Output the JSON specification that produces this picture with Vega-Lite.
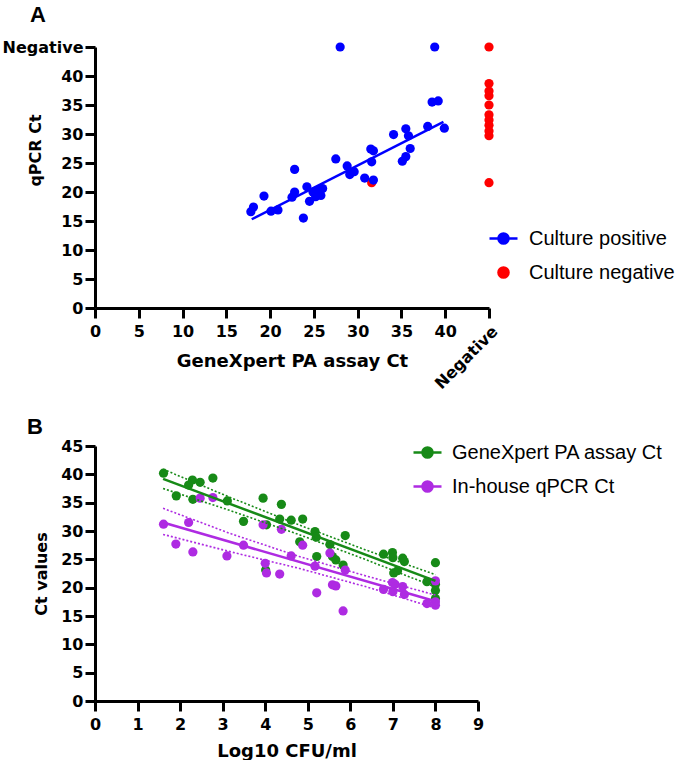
{
  "$schema": "https://vega.github.io/schema/vega-lite/v6.json",
  "padding": {"left": 2, "top": 4, "right": 0, "bottom": 0},
  "spacing": 24,
  "config": {
    "view": {"stroke": null},
    "axis": {
      "grid": false, "domainColor": "black", "domainWidth": 3, "tickColor": "black", "tickWidth": 3, "tickSize": 10,
      "labelFont": "DejaVu Sans", "labelFontWeight": "bold", "labelFontSize": 16, "labelColor": "black",
      "titleFont": "DejaVu Sans", "titleFontWeight": "bold", "titleFontSize": 18, "titleColor": "black",
      "labelOverlap": false, "labelFlush": false
    },
    "axisY": {"labelOverlap": false},
    "axisQuantitative": {"labelOverlap": false},
    "legend": {"labelFont": "Liberation Sans", "labelFontSize": 20, "labelColor": "black", "padding": 0, "labelLimit": 400},
    "title": {"font": "Liberation Sans", "fontSize": 22, "fontWeight": "bold", "anchor": "start", "frame": "group", "color": "black"}
  },
  "resolve": {"scale": {"color": "independent"}, "legend": {"color": "independent"}},
  "vconcat": [
    {
      "title": {"text": "A", "dx": -65, "offset": 12},
      "width": 394,
      "height": 261,
      "data": {"values": [
        {"gx": 31.6, "q": 21.6, "grp": "Culture negative", "k": "pt"},
        {"gx": 45, "q": 45, "grp": "Culture negative", "k": "pt"},
        {"gx": 45, "q": 38.7, "grp": "Culture negative", "k": "pt"},
        {"gx": 45, "q": 37.4, "grp": "Culture negative", "k": "pt"},
        {"gx": 45, "q": 36.6, "grp": "Culture negative", "k": "pt"},
        {"gx": 45, "q": 35.0, "grp": "Culture negative", "k": "pt"},
        {"gx": 45, "q": 33.3, "grp": "Culture negative", "k": "pt"},
        {"gx": 45, "q": 32.4, "grp": "Culture negative", "k": "pt"},
        {"gx": 45, "q": 31.5, "grp": "Culture negative", "k": "pt"},
        {"gx": 45, "q": 30.5, "grp": "Culture negative", "k": "pt"},
        {"gx": 45, "q": 29.7, "grp": "Culture negative", "k": "pt"},
        {"gx": 45, "q": 21.6, "grp": "Culture negative", "k": "pt"},
        {"gx": 28.0, "q": 45, "grp": "Culture positive", "k": "pt"},
        {"gx": 38.8, "q": 45, "grp": "Culture positive", "k": "pt"},
        {"gx": 38.5, "q": 35.5, "grp": "Culture positive", "k": "pt"},
        {"gx": 39.2, "q": 35.7, "grp": "Culture positive", "k": "pt"},
        {"gx": 38.0, "q": 31.3, "grp": "Culture positive", "k": "pt"},
        {"gx": 39.9, "q": 31.0, "grp": "Culture positive", "k": "pt"},
        {"gx": 34.1, "q": 29.9, "grp": "Culture positive", "k": "pt"},
        {"gx": 35.5, "q": 30.9, "grp": "Culture positive", "k": "pt"},
        {"gx": 35.8, "q": 29.7, "grp": "Culture positive", "k": "pt"},
        {"gx": 36.0, "q": 27.5, "grp": "Culture positive", "k": "pt"},
        {"gx": 35.5, "q": 26.1, "grp": "Culture positive", "k": "pt"},
        {"gx": 35.1, "q": 25.3, "grp": "Culture positive", "k": "pt"},
        {"gx": 31.5, "q": 27.4, "grp": "Culture positive", "k": "pt"},
        {"gx": 31.8, "q": 27.1, "grp": "Culture positive", "k": "pt"},
        {"gx": 31.6, "q": 25.2, "grp": "Culture positive", "k": "pt"},
        {"gx": 30.8, "q": 22.4, "grp": "Culture positive", "k": "pt"},
        {"gx": 31.8, "q": 22.05, "grp": "Culture positive", "k": "pt"},
        {"gx": 27.5, "q": 25.7, "grp": "Culture positive", "k": "pt"},
        {"gx": 28.8, "q": 24.5, "grp": "Culture positive", "k": "pt"},
        {"gx": 29.6, "q": 23.5, "grp": "Culture positive", "k": "pt"},
        {"gx": 29.1, "q": 23.0, "grp": "Culture positive", "k": "pt"},
        {"gx": 22.8, "q": 23.9, "grp": "Culture positive", "k": "pt"},
        {"gx": 19.3, "q": 19.3, "grp": "Culture positive", "k": "pt"},
        {"gx": 22.8, "q": 20.0, "grp": "Culture positive", "k": "pt"},
        {"gx": 22.5, "q": 19.1, "grp": "Culture positive", "k": "pt"},
        {"gx": 24.2, "q": 20.9, "grp": "Culture positive", "k": "pt"},
        {"gx": 24.9, "q": 20.0, "grp": "Culture positive", "k": "pt"},
        {"gx": 25.4, "q": 20.3, "grp": "Culture positive", "k": "pt"},
        {"gx": 26.0, "q": 20.6, "grp": "Culture positive", "k": "pt"},
        {"gx": 24.5, "q": 18.4, "grp": "Culture positive", "k": "pt"},
        {"gx": 25.2, "q": 19.2, "grp": "Culture positive", "k": "pt"},
        {"gx": 25.8, "q": 19.4, "grp": "Culture positive", "k": "pt"},
        {"gx": 20.1, "q": 16.7, "grp": "Culture positive", "k": "pt"},
        {"gx": 20.9, "q": 16.9, "grp": "Culture positive", "k": "pt"},
        {"gx": 17.8, "q": 16.6, "grp": "Culture positive", "k": "pt"},
        {"gx": 18.1, "q": 17.4, "grp": "Culture positive", "k": "pt"},
        {"gx": 23.8, "q": 15.5, "grp": "Culture positive", "k": "pt"},
        {"gx": 17.9, "q": 15.3, "grp": "Culture positive", "k": "fit"},
        {"gx": 39.8, "q": 32.1, "grp": "Culture positive", "k": "fit"}
      ]},
      "encoding": {
        "x": {"field": "gx", "type": "quantitative",
          "scale": {"domain": [0, 45], "nice": false, "zero": false},
          "axis": {"title": "GeneXpert PA assay Ct", "values": [0, 5, 10, 15, 20, 25, 30, 35, 40, 45],
            "labelExpr": "datum.value == 45 ? 'Negative' : datum.label", "labelPadding": 5, "titleY": 44,
            "labelOverlap": false,
            "encoding": {"labels": {
              "angle": {"value": {"expr": "datum.value == 45 ? -45 : 0"}},
              "align": {"value": {"expr": "datum.value == 45 ? 'right' : 'center'"}},
              "baseline": {"value": "top"}
            }}}},
        "y": {"field": "q", "type": "quantitative",
          "scale": {"domain": [0, 45], "nice": false, "zero": false},
          "axis": {"title": "qPCR Ct", "values": [0, 5, 10, 15, 20, 25, 30, 35, 40, 45],
            "labelExpr": "datum.value == 45 ? 'Negative' : datum.label", "labelPadding": 2,
            "labelOverlap": false, "titleX": -52, "titleY": 103, "titleFontSize": 16}},
        "color": {"field": "grp", "type": "nominal",
          "scale": {"domain": ["Culture positive", "Culture negative"], "range": ["#0000FF", "#FF0000"]},
          "legend": {"title": null, "orient": "none", "legendX": 393, "legendY": 176,
            "symbolSize": 784, "labelOffset": 10, "rowPadding": 8,
            "encoding": {"symbols": {
              "shape": {"value": {"expr": "datum.value == 'Culture positive' ? 'M-1,0L1,0M0.36,0A0.36,0.36,0,1,1,-0.36,0A0.36,0.36,0,1,1,0.36,0Z' : 'M0.36,0A0.36,0.36,0,1,1,-0.36,0A0.36,0.36,0,1,1,0.36,0Z'"}},
              "stroke": {"value": {"expr": "datum.value == 'Culture positive' ? '#0000FF' : '#FF0000'"}},
              "fill": {"value": {"expr": "datum.value == 'Culture positive' ? '#0000FF' : '#FF0000'"}},
              "strokeWidth": {"value": 2.5},
              "size": {"value": 784},
              "opacity": {"value": 1}
            }}}}
      },
      "layer": [
        {
          "transform": [{"filter": "datum.k == 'pt'"}],
          "mark": {"type": "circle", "size": 85, "opacity": 1}
        },
        {
          "transform": [{"filter": "datum.k == 'fit'"}],
          "mark": {"type": "line", "strokeWidth": 2.5}
        }
      ]
    },
    {
      "title": {"text": "B", "dx": -68, "offset": -2},
      "width": 383,
      "height": 255,
      "data": {"values": [
        {"cfu": 1.61, "ct": 40.2, "s": "GeneXpert PA assay Ct", "k": "pt"},
        {"cfu": 1.91, "ct": 36.2, "s": "GeneXpert PA assay Ct", "k": "pt"},
        {"cfu": 2.2, "ct": 38.1, "s": "GeneXpert PA assay Ct", "k": "pt"},
        {"cfu": 2.29, "ct": 39.0, "s": "GeneXpert PA assay Ct", "k": "pt"},
        {"cfu": 2.47, "ct": 38.6, "s": "GeneXpert PA assay Ct", "k": "pt"},
        {"cfu": 2.3, "ct": 35.6, "s": "GeneXpert PA assay Ct", "k": "pt"},
        {"cfu": 2.77, "ct": 39.35, "s": "GeneXpert PA assay Ct", "k": "pt"},
        {"cfu": 3.11, "ct": 35.3, "s": "GeneXpert PA assay Ct", "k": "pt"},
        {"cfu": 3.49, "ct": 31.7, "s": "GeneXpert PA assay Ct", "k": "pt"},
        {"cfu": 3.95, "ct": 35.8, "s": "GeneXpert PA assay Ct", "k": "pt"},
        {"cfu": 4.03, "ct": 31.1, "s": "GeneXpert PA assay Ct", "k": "pt"},
        {"cfu": 4.38, "ct": 34.7, "s": "GeneXpert PA assay Ct", "k": "pt"},
        {"cfu": 4.34, "ct": 32.1, "s": "GeneXpert PA assay Ct", "k": "pt"},
        {"cfu": 4.61, "ct": 31.9, "s": "GeneXpert PA assay Ct", "k": "pt"},
        {"cfu": 4.88, "ct": 32.1, "s": "GeneXpert PA assay Ct", "k": "pt"},
        {"cfu": 4.81, "ct": 28.1, "s": "GeneXpert PA assay Ct", "k": "pt"},
        {"cfu": 5.17, "ct": 29.9, "s": "GeneXpert PA assay Ct", "k": "pt"},
        {"cfu": 5.2, "ct": 28.9, "s": "GeneXpert PA assay Ct", "k": "pt"},
        {"cfu": 5.21, "ct": 25.5, "s": "GeneXpert PA assay Ct", "k": "pt"},
        {"cfu": 5.52, "ct": 27.6, "s": "GeneXpert PA assay Ct", "k": "pt"},
        {"cfu": 5.58, "ct": 25.5, "s": "GeneXpert PA assay Ct", "k": "pt"},
        {"cfu": 5.66, "ct": 24.9, "s": "GeneXpert PA assay Ct", "k": "pt"},
        {"cfu": 5.83, "ct": 24.0, "s": "GeneXpert PA assay Ct", "k": "pt"},
        {"cfu": 5.88, "ct": 29.2, "s": "GeneXpert PA assay Ct", "k": "pt"},
        {"cfu": 4.01, "ct": 23.1, "s": "GeneXpert PA assay Ct", "k": "pt"},
        {"cfu": 6.78, "ct": 25.9, "s": "GeneXpert PA assay Ct", "k": "pt"},
        {"cfu": 6.99, "ct": 26.2, "s": "GeneXpert PA assay Ct", "k": "pt"},
        {"cfu": 7.0, "ct": 25.3, "s": "GeneXpert PA assay Ct", "k": "pt"},
        {"cfu": 7.23, "ct": 25.2, "s": "GeneXpert PA assay Ct", "k": "pt"},
        {"cfu": 7.27, "ct": 24.6, "s": "GeneXpert PA assay Ct", "k": "pt"},
        {"cfu": 7.02, "ct": 22.6, "s": "GeneXpert PA assay Ct", "k": "pt"},
        {"cfu": 7.11, "ct": 23.0, "s": "GeneXpert PA assay Ct", "k": "pt"},
        {"cfu": 7.8, "ct": 21.05, "s": "GeneXpert PA assay Ct", "k": "pt"},
        {"cfu": 8.0, "ct": 24.4, "s": "GeneXpert PA assay Ct", "k": "pt"},
        {"cfu": 8.0, "ct": 20.6, "s": "GeneXpert PA assay Ct", "k": "pt"},
        {"cfu": 8.0, "ct": 19.5, "s": "GeneXpert PA assay Ct", "k": "pt"},
        {"cfu": 8.0, "ct": 18.1, "s": "GeneXpert PA assay Ct", "k": "pt"},
        {"cfu": 1.61, "ct": 31.2, "s": "In-house qPCR Ct", "k": "pt"},
        {"cfu": 1.9, "ct": 27.7, "s": "In-house qPCR Ct", "k": "pt"},
        {"cfu": 2.2, "ct": 31.5, "s": "In-house qPCR Ct", "k": "pt"},
        {"cfu": 2.3, "ct": 26.3, "s": "In-house qPCR Ct", "k": "pt"},
        {"cfu": 2.47, "ct": 35.8, "s": "In-house qPCR Ct", "k": "pt"},
        {"cfu": 2.77, "ct": 35.9, "s": "In-house qPCR Ct", "k": "pt"},
        {"cfu": 3.1, "ct": 25.6, "s": "In-house qPCR Ct", "k": "pt"},
        {"cfu": 3.49, "ct": 27.5, "s": "In-house qPCR Ct", "k": "pt"},
        {"cfu": 3.95, "ct": 31.1, "s": "In-house qPCR Ct", "k": "pt"},
        {"cfu": 4.0, "ct": 24.3, "s": "In-house qPCR Ct", "k": "pt"},
        {"cfu": 4.03, "ct": 22.6, "s": "In-house qPCR Ct", "k": "pt"},
        {"cfu": 4.34, "ct": 22.4, "s": "In-house qPCR Ct", "k": "pt"},
        {"cfu": 4.38, "ct": 30.3, "s": "In-house qPCR Ct", "k": "pt"},
        {"cfu": 4.61, "ct": 25.6, "s": "In-house qPCR Ct", "k": "pt"},
        {"cfu": 4.88, "ct": 27.5, "s": "In-house qPCR Ct", "k": "pt"},
        {"cfu": 5.17, "ct": 23.8, "s": "In-house qPCR Ct", "k": "pt"},
        {"cfu": 5.21, "ct": 19.1, "s": "In-house qPCR Ct", "k": "pt"},
        {"cfu": 5.52, "ct": 26.1, "s": "In-house qPCR Ct", "k": "pt"},
        {"cfu": 5.58, "ct": 20.5, "s": "In-house qPCR Ct", "k": "pt"},
        {"cfu": 5.66, "ct": 20.3, "s": "In-house qPCR Ct", "k": "pt"},
        {"cfu": 5.83, "ct": 15.9, "s": "In-house qPCR Ct", "k": "pt"},
        {"cfu": 5.88, "ct": 23.1, "s": "In-house qPCR Ct", "k": "pt"},
        {"cfu": 6.78, "ct": 19.7, "s": "In-house qPCR Ct", "k": "pt"},
        {"cfu": 6.99, "ct": 20.9, "s": "In-house qPCR Ct", "k": "pt"},
        {"cfu": 7.0, "ct": 19.3, "s": "In-house qPCR Ct", "k": "pt"},
        {"cfu": 7.05, "ct": 20.6, "s": "In-house qPCR Ct", "k": "pt"},
        {"cfu": 7.23, "ct": 20.2, "s": "In-house qPCR Ct", "k": "pt"},
        {"cfu": 7.27, "ct": 18.8, "s": "In-house qPCR Ct", "k": "pt"},
        {"cfu": 7.8, "ct": 17.2, "s": "In-house qPCR Ct", "k": "pt"},
        {"cfu": 8.0, "ct": 21.2, "s": "In-house qPCR Ct", "k": "pt"},
        {"cfu": 8.0, "ct": 17.5, "s": "In-house qPCR Ct", "k": "pt"},
        {"cfu": 8.0, "ct": 16.9, "s": "In-house qPCR Ct", "k": "pt"},
        {"cfu": 1.6, "ct": 39.2, "s": "GeneXpert PA assay Ct", "k": "fit"},
        {"cfu": 8.0, "ct": 21.2, "s": "GeneXpert PA assay Ct", "k": "fit"},
        {"cfu": 1.6, "ct": 40.9, "s": "GeneXpert PA assay Ct", "k": "upper"},
        {"cfu": 3.2, "ct": 35.85, "s": "GeneXpert PA assay Ct", "k": "upper"},
        {"cfu": 4.8, "ct": 31.05, "s": "GeneXpert PA assay Ct", "k": "upper"},
        {"cfu": 6.4, "ct": 26.55, "s": "GeneXpert PA assay Ct", "k": "upper"},
        {"cfu": 8.0, "ct": 22.3, "s": "GeneXpert PA assay Ct", "k": "upper"},
        {"cfu": 1.6, "ct": 37.5, "s": "GeneXpert PA assay Ct", "k": "lower"},
        {"cfu": 3.2, "ct": 33.55, "s": "GeneXpert PA assay Ct", "k": "lower"},
        {"cfu": 4.8, "ct": 29.35, "s": "GeneXpert PA assay Ct", "k": "lower"},
        {"cfu": 6.4, "ct": 24.85, "s": "GeneXpert PA assay Ct", "k": "lower"},
        {"cfu": 8.0, "ct": 20.1, "s": "GeneXpert PA assay Ct", "k": "lower"},
        {"cfu": 1.6, "ct": 31.5, "s": "In-house qPCR Ct", "k": "fit"},
        {"cfu": 8.0, "ct": 17.6, "s": "In-house qPCR Ct", "k": "fit"},
        {"cfu": 1.6, "ct": 34.0, "s": "In-house qPCR Ct", "k": "upper"},
        {"cfu": 3.2, "ct": 29.5, "s": "In-house qPCR Ct", "k": "upper"},
        {"cfu": 4.8, "ct": 25.5, "s": "In-house qPCR Ct", "k": "upper"},
        {"cfu": 6.4, "ct": 22.0, "s": "In-house qPCR Ct", "k": "upper"},
        {"cfu": 8.0, "ct": 18.7, "s": "In-house qPCR Ct", "k": "upper"},
        {"cfu": 1.6, "ct": 29.4, "s": "In-house qPCR Ct", "k": "lower"},
        {"cfu": 3.2, "ct": 26.3, "s": "In-house qPCR Ct", "k": "lower"},
        {"cfu": 4.8, "ct": 23.4, "s": "In-house qPCR Ct", "k": "lower"},
        {"cfu": 6.4, "ct": 20.1, "s": "In-house qPCR Ct", "k": "lower"},
        {"cfu": 8.0, "ct": 16.4, "s": "In-house qPCR Ct", "k": "lower"}
      ]},
      "encoding": {
        "x": {"field": "cfu", "type": "quantitative",
          "scale": {"domain": [0, 9], "nice": false, "zero": false},
          "axis": {"title": "Log10 CFU/ml", "values": [0, 1, 2, 3, 4, 5, 6, 7, 8, 9], "labelPadding": 5, "titlePadding": 10, "labelOverlap": false}},
        "y": {"field": "ct", "type": "quantitative",
          "scale": {"domain": [0, 45], "nice": false, "zero": false},
          "axis": {"title": "Ct values", "values": [0, 5, 10, 15, 20, 25, 30, 35, 40, 45], "labelPadding": 2,
            "labelOverlap": false, "titleX": -46, "titleFontSize": 16}},
        "color": {"field": "s", "type": "nominal",
          "scale": {"domain": ["GeneXpert PA assay Ct", "In-house qPCR Ct"], "range": ["#178A17", "#AE2BE2"]},
          "legend": {"title": null, "orient": "none", "legendX": 317, "legendY": -9,
            "symbolSize": 784, "labelOffset": 9, "rowPadding": 8,
            "encoding": {"symbols": {
              "shape": {"value": "M-1,0L1,0M0.36,0A0.36,0.36,0,1,1,-0.36,0A0.36,0.36,0,1,1,0.36,0Z"},
              "strokeWidth": {"value": 2.5},
              "size": {"value": 784},
              "opacity": {"value": 1}
            }}}}
      },
      "layer": [
        {
          "transform": [{"filter": "datum.k == 'pt'"}],
          "mark": {"type": "circle", "size": 85, "opacity": 1}
        },
        {
          "transform": [{"filter": "datum.k == 'fit'"}],
          "mark": {"type": "line", "strokeWidth": 2.5}
        },
        {
          "transform": [{"filter": "datum.k == 'upper' || datum.k == 'lower'"}],
          "mark": {"type": "line", "strokeWidth": 1.6, "strokeDash": [2, 2]},
          "encoding": {"detail": {"field": "k", "type": "nominal"}}
        }
      ]
    }
  ]
}
